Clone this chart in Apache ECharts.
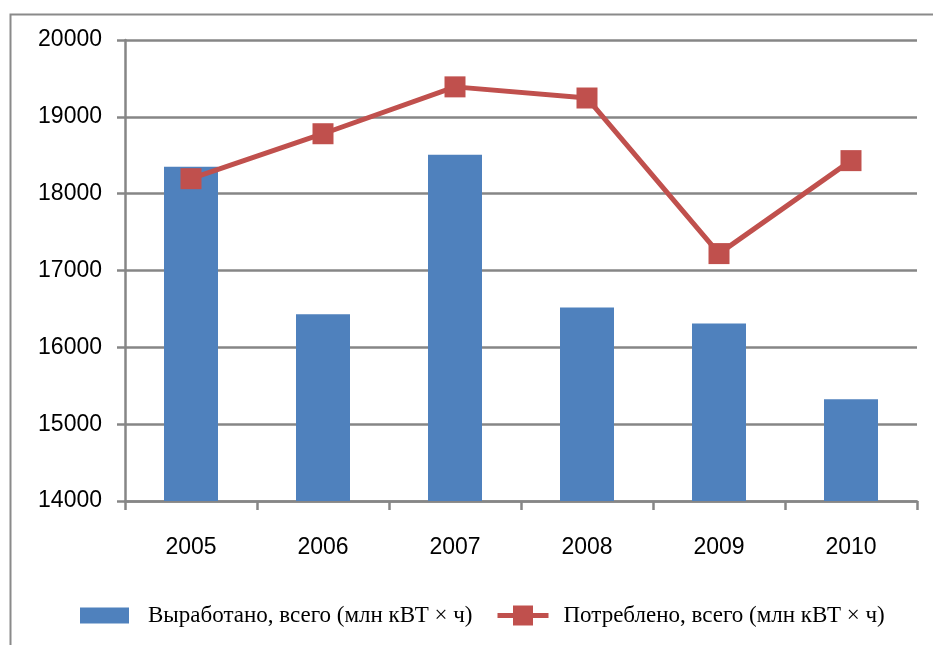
<!DOCTYPE html>
<html><head><meta charset="utf-8">
<script src="https://cdn.jsdelivr.net/npm/echarts@6/dist/echarts.min.js"></script>
<style>html,body{margin:0;padding:0;background:#fff}#c{width:933px;height:645px}</style>
</head><body><div id="c"></div>
<script>
const categories = ['2005','2006','2007','2008','2009','2010'];
const produced = [18350, 16430, 18505, 16520, 16310, 15325];
const consumed = [18195, 18780, 19390, 19245, 17220, 18430];
const yTicks = {min:14000, max:20000, interval:1000};
const seriesNames = ['Выработано, всего (млн кВТ × ч)', 'Потреблено, всего (млн кВТ × ч)'];

const chart = echarts.init(document.getElementById('c'));
const axisGray = '#868686';
const legendText = {fontFamily:'Liberation Serif', fontSize:23, color:'#000', padding:[0,0,0,14]};
chart.setOption({
  animation:false,
  graphic:[{type:'rect', left:8, top:12, shape:{width:1000, height:1000}, style:{fill:'none', stroke:'#8a8a8a', lineWidth:2}, silent:true, z:-1}],
  grid:{left:125, right:16, top:40, bottom:144},
  legend:[
    {left:75, top:599, itemWidth:49, itemHeight:16, textStyle:legendText,
     data:[{name:seriesNames[0], icon:'rect'}]},
    {left:490, top:599, itemWidth:51, itemHeight:25, textStyle:{...legendText, padding:[0,0,0,10]},
     lineStyle:{width:5, color:'#C0504D'}, itemStyle:{color:'#C0504D'},
     data:[{name:seriesNames[1]}]}
  ],
  xAxis:{
    type:'category', data:categories, boundaryGap:true,
    axisLine:{lineStyle:{color:axisGray, width:2.5}},
    axisTick:{show:true, length:9, lineStyle:{color:axisGray, width:2.5}},
    axisLabel:{margin:35, fontFamily:'Liberation Sans', fontSize:23, color:'#000'}
  },
  yAxis:{
    type:'value', min:yTicks.min, max:yTicks.max, interval:yTicks.interval,
    axisLine:{show:true, lineStyle:{color:axisGray, width:2.5}},
    axisTick:{show:true, length:8, lineStyle:{color:axisGray, width:2.5}},
    splitLine:{lineStyle:{color:axisGray, width:2.5}},
    axisLabel:{margin:23, fontFamily:'Liberation Sans', fontSize:23, color:'#000', formatter:v=>String(v)}
  },
  series:[
    {name:seriesNames[0], type:'bar', data:produced, barWidth:54, itemStyle:{color:'#4F81BD'}},
    {name:seriesNames[1], type:'line', data:consumed, symbol:'rect', symbolSize:21,
     lineStyle:{color:'#C0504D', width:5}, itemStyle:{color:'#C0504D'}, z:3}
  ]
});
</script></body></html>
